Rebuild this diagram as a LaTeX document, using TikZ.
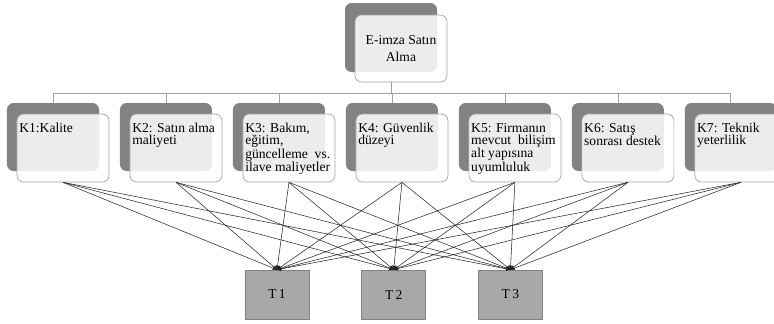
\documentclass[tikz,border=0pt]{standalone}
\usepackage{fontspec}
\setmainfont{Liberation Serif}
\usepackage{tikz}
\usetikzlibrary{arrows,shapes,positioning}
\usepackage{xcolor}
\definecolor{esback}{RGB}{130,130,130}
\definecolor{esfront}{RGB}{255,255,255}
\definecolor{esborder}{RGB}{165,165,165}
\definecolor{estree}{RGB}{160,160,160}
\definecolor{esalt}{RGB}{168,168,168}
\definecolor{esaltborder}{RGB}{130,130,130}
\definecolor{esline}{RGB}{35,35,35}
\tikzstyle{arrow} = [->,>=stealth',line width=0.45pt,color=esline]
\tikzstyle{treeline} = [line width=0.6pt,color=estree]
\tikzstyle{backbox} = [rectangle, rounded corners=0.2cm, minimum width=2.76cm, minimum height=2.04cm, inner sep=0pt, fill=esback]
\tikzstyle{frontbox} = [rectangle, rounded corners=0.2cm, minimum width=2.76cm, minimum height=2.04cm, inner sep=0pt, draw=esborder, line width=0.6pt, fill=esfront, fill opacity=0.85, text opacity=1]
\tikzstyle{altbox} = [rectangle, minimum width=1.92cm, minimum height=1.47cm, inner sep=0pt, draw=esaltborder, line width=0.6pt, fill=esalt]
\newcommand{\ktext}[1]{\parbox[c][1.5cm][t]{2.62cm}{\raggedright #1}}

\begin{document}
\begin{tikzpicture}[x=0.03cm, y=-0.03cm, font=\fontsize{11.6}{10.4}\selectfont]
\useasboundingbox (0,0) rectangle (774,323);

% goal
\node[backbox, minimum height=2.07cm] (topb) at (391,37.5) {};
\node[frontbox, minimum height=2.01cm, align=center, font=\fontsize{11.6}{14.5}\selectfont] (topf) at ([shift={(10,11)}]topb) {E-imza Satın\\Alma};

% criteria
\node[backbox] (kb1) at (53,137) {};
\node[backbox, right=0.615cm of kb1] (kb2) {};
\node[backbox, right=0.615cm of kb2] (kb3) {};
\node[backbox, right=0.615cm of kb3] (kb4) {};
\node[backbox, right=0.615cm of kb4] (kb5) {};
\node[backbox, right=0.615cm of kb5] (kb6) {};
\node[backbox, right=0.615cm of kb6] (kb7) {};

\node[frontbox] (k1) at ([shift={(10,11)}]kb1) {\ktext{K1:Kalite}};
\node[frontbox] (k2) at ([shift={(10,11)}]kb2) {\ktext{K2: Satın alma\\maliyeti}};
\node[frontbox] (k3) at ([shift={(10,11)}]kb3) {\ktext{K3: Bakım,\\eğitim,\\güncelleme~ vs.\\ilave maliyetler}};
\node[frontbox] (k4) at ([shift={(10,11)}]kb4) {\ktext{K4: Güvenlik\\düzeyi}};
\node[frontbox] (k5) at ([shift={(10,11)}]kb5) {\ktext{K5: Firmanın\\mevcut~ bilişim\\alt yapısına\\uyumluluk}};
\node[frontbox] (k6) at ([shift={(10,11)}]kb6) {\ktext{K6: Satış\\sonrası destek}};
\node[frontbox] (k7) at ([shift={(10,11)}]kb7) {\ktext{K7: Teknik\\yeterlilik}};

% tree
\coordinate (bar) at (391,93);
\draw[treeline] (topb.center |- topf.south) -- (bar) -| (kb1.north);
\draw[treeline] (bar) -| (kb2.north);
\draw[treeline] (bar) -| (kb3.north);
\draw[treeline] (bar) -| (kb4.north);
\draw[treeline] (bar) -| (kb5.north);
\draw[treeline] (bar) -| (kb6.north);
\draw[treeline] (bar) -| (kb7.north);

% alternatives
\node[altbox] (t1) at (277,294.5) {T\,1};
\node[altbox, right=1.56cm of t1] (t2) {T\,2};
\node[altbox, right=1.56cm of t2] (t3) {T\,3};

\draw[arrow] (k1.south) -- (t1.north);
\draw[arrow] (k1.south) -- (t2.north);
\draw[arrow] (k1.south) -- (t3.north);
\draw[arrow] (k2.south) -- (t1.north);
\draw[arrow] (k2.south) -- (t2.north);
\draw[arrow] (k2.south) -- (t3.north);
\draw[arrow] (k3.south) -- (t1.north);
\draw[arrow] (k3.south) -- (t2.north);
\draw[arrow] (k3.south) -- (t3.north);
\draw[arrow] (k4.south) -- (t1.north);
\draw[arrow] (k4.south) -- (t2.north);
\draw[arrow] (k4.south) -- (t3.north);
\draw[arrow] (k5.south) -- (t1.north);
\draw[arrow] (k5.south) -- (t2.north);
\draw[arrow] (k5.south) -- (t3.north);
\draw[arrow] (k6.south) -- (t1.north);
\draw[arrow] (k6.south) -- (t2.north);
\draw[arrow] (k6.south) -- (t3.north);
\draw[arrow] (k7.south) -- (t1.north);
\draw[arrow] (k7.south) -- (t2.north);
\draw[arrow] (k7.south) -- (t3.north);
\end{tikzpicture}
\end{document}
